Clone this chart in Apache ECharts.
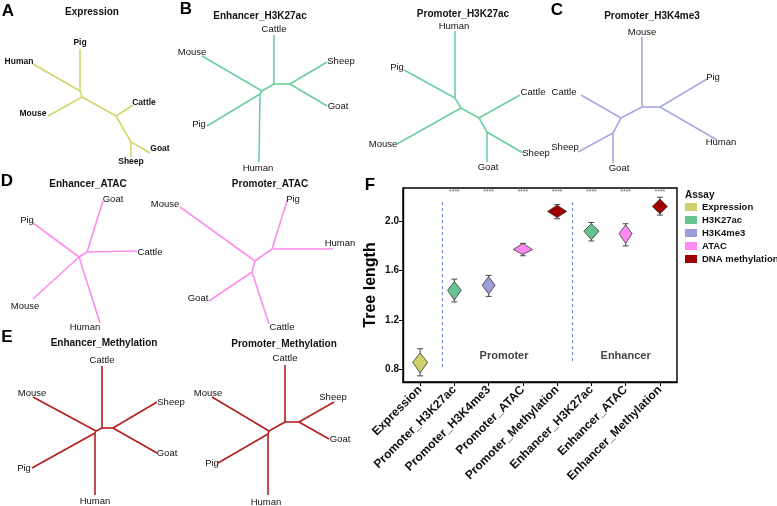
<!DOCTYPE html>
<html>
<head>
<meta charset="utf-8">
<script src="https://cdn.jsdelivr.net/npm/echarts@6/dist/echarts.min.js"></script>
<style>
html,body{margin:0;padding:0;background:#fff;}
#chart{width:777px;height:506px;}
</style>
</head>
<body>
<div id="chart"></div>
<script>
// ---------------- DATA ----------------
// Panel F: tree length violins
var categories = ['Expression','Promoter_H3K27ac','Promoter_H3K4me3','Promoter_ATAC','Promoter_Methylation','Enhancer_H3K27ac','Enhancer_ATAC','Enhancer_Methylation'];
var assayOfCategory = ['Expression','H3K27ac','H3K4me3','ATAC','DNA methylation','H3K27ac','ATAC','DNA methylation'];
var assays = ['Expression','H3K27ac','H3K4me3','ATAC','DNA methylation'];
var violinLow   = [0.77, 1.36, 1.41, 1.73, 2.03, 1.85, 1.82, 2.06];
var violinHigh  = [0.93, 1.51, 1.55, 1.82, 2.13, 1.98, 1.97, 2.18];
var violinPeak  = [0.855,1.44, 1.48, 1.77, 2.08, 1.92, 1.90, 2.12];
var violinWidth = [0.44, 0.40, 0.38, 0.56, 0.56, 0.44, 0.38, 0.44];
var pointLow    = [0.745,1.345,1.39, 1.72, 2.02, 1.84, 1.80, 2.05];
var pointHigh   = [0.965,1.53, 1.56, 1.82, 2.135,1.99, 1.98, 2.195];
var sigLabels   = ['', '****','****','****','****','****','****','****'];
var yTicks = [0.8, 1.2, 1.6, 2.0];
var dividers = [0.65, 4.45];
var groupLabels = [['Promoter', 2.45, 0.905], ['Enhancer', 6.0, 0.905]];

// Trees: nodes [name, x, y] in each tree's own units; edges [from, to]
var treeTitles = ['Expression','Enhancer_H3K27ac','Promoter_H3K27ac','Promoter_H3K4me3','Enhancer_ATAC','Promoter_ATAC','Enhancer_Methylation','Promoter_Methylation'];
var treeAssay = ['Expression','H3K27ac','H3K27ac','H3K4me3','ATAC','ATAC','DNA methylation','DNA methylation'];

var nodesExpression = [['Pig',80,49],['Human',33,64],['Mouse',48,116],['Cattle',133,105],['Goat',150,153],['Sheep',131,157],
  ['a1',80,91],['a2',82,97],['a3',116,116],['a4',131,142]];
var edgesExpression = [['Pig','a1'],['Human','a1'],['a1','a2'],['Mouse','a2'],['a2','a3'],['Cattle','a3'],['a3','a4'],['Goat','a4'],['Sheep','a4']];

var nodesEnhH3K27ac = [['Cattle',94,35],['Sheep',147,62],['Goat',147,106],['Mouse',22,56],['Pig',27,126],['Human',79,162],
  ['b1',94,84],['b2',110,84],['b3',82,91],['b4',80,94]];
var edgesEnhH3K27ac = [['Cattle','b1'],['b1','b2'],['Sheep','b2'],['Goat','b2'],['b1','b3'],['Mouse','b3'],['b3','b4'],['Pig','b4'],['Human','b4']];

var nodesProH3K27ac = [['Human',85,31],['Pig',34,70],['Mouse',27,144],['Cattle',150,95],['Sheep',153,153],['Goat',117,162],
  ['p1',85,98],['p2',91,108],['p3',109,118],['p4',117,132]];
var edgesProH3K27ac = [['Human','p1'],['Pig','p1'],['p1','p2'],['Mouse','p2'],['p2','p3'],['Cattle','p3'],['p3','p4'],['Goat','p4'],['Sheep','p4']];

var nodesProH3K4me3 = [['Mouse',82,37],['Pig',147,79],['Human',157,140],['Cattle',21,95],['Sheep',18,152],['Goat',53,163],
  ['c1',82,107],['c2',100,107],['c3',61,118],['c4',53,133]];
var edgesProH3K4me3 = [['Mouse','c1'],['c1','c2'],['Pig','c2'],['Human','c2'],['c1','c3'],['Cattle','c3'],['c3','c4'],['Sheep','c4'],['Goat','c4']];

var nodesEnhATAC = [['Goat',103,31],['Cattle',137,81],['Pig',33,53],['Mouse',33,129],['Human',100,153],
  ['d1',87,82],['d2',79,87]];
var edgesEnhATAC = [['Goat','d1'],['Cattle','d1'],['d1','d2'],['Pig','d2'],['Mouse','d2'],['Human','d2']];

var nodesProATAC = [['Pig',117,31],['Human',163,79],['Mouse',10,37],['Goat',39,131],['Cattle',99,154],
  ['q1',102,79],['q2',85,91],['q3',82,102]];
var edgesProATAC = [['Pig','q1'],['Human','q1'],['q1','q2'],['Mouse','q2'],['q2','q3'],['Goat','q3'],['Cattle','q3']];

var nodesEnhMeth = [['Cattle',102,26],['Sheep',157,62],['Goat',157,113],['Mouse',33,57],['Pig',32,128],['Human',95,155],
  ['e1',102,88],['e2',113,88],['e3',96,91],['e4',95,93]];
var edgesEnhMeth = [['Cattle','e1'],['e1','e2'],['Sheep','e2'],['Goat','e2'],['e1','e3'],['Mouse','e3'],['e3','e4'],['Pig','e4'],['Human','e4']];

var nodesProMeth = [['Cattle',105,25],['Sheep',154,62],['Goat',149,99],['Mouse',32,57],['Pig',38,123],['Human',88,155],
  ['m1',105,82],['m2',119,82],['m3',89,91],['m4',88,94]];
var edgesProMeth = [['Cattle','m1'],['m1','m2'],['Sheep','m2'],['Goat','m2'],['m1','m3'],['Mouse','m3'],['m3','m4'],['Pig','m4'],['Human','m4']];

var treeNodes = [nodesExpression,nodesEnhH3K27ac,nodesProH3K27ac,nodesProH3K4me3,nodesEnhATAC,nodesProATAC,nodesEnhMeth,nodesProMeth];
var treeEdges = [edgesExpression,edgesEnhH3K27ac,edgesProH3K27ac,edgesProH3K4me3,edgesEnhATAC,edgesProATAC,edgesEnhMeth,edgesProMeth];

// ---------------- STYLE / LAYOUT ----------------
var FONT = '"Liberation Sans", Arial, sans-serif';
var fillColor = {'Expression':'#cfcf6c','H3K27ac':'#66c28f','H3K4me3':'#9c9cd6','ATAC':'#ff88f2','DNA methylation':'#9e0000'};
var treeColor = {'Expression':'#d4d46c','H3K27ac':'#6ccf9f','H3K4me3':'#a8a8e2','ATAC':'#ff8cf0','DNA methylation':'#b41e1e'};
var treeBoxes = [[0,0],[180,0],[370,0],[560,0],[0,170],[170,170],[0,340],[180,340]];
var BOXW = 190, BOXH = 166;
var treeTitlePos = [[92,12],[260,16],[463,14],[652,16],[88,184],[270,184],[104,343],[284,344]];
var panelLetters = [['A',8,11],['B',186,9],['C',557,10],['D',7,181],['E',7,337],['F',370,185]];
// label offset (dx,dy) of each leaf label centre from its tip, per tree
var labelOffsets = [
  {Pig:[0,-6],Human:[-14,-2],Mouse:[-15,-2],Cattle:[11,-2],Goat:[10,-4],Sheep:[0,5]},
  {Cattle:[0,-6],Sheep:[14,-1],Goat:[11,0],Mouse:[-10,-4],Pig:[-8,-2],Human:[-1,6]},
  {Human:[-1,-5],Pig:[-7,-3],Mouse:[-14,0],Cattle:[13,-3],Sheep:[13,0],Goat:[1,5]},
  {Mouse:[0,-5],Pig:[6,-2],Human:[4,2],Cattle:[-17,-3],Sheep:[-13,-5],Goat:[6,5]},
  {Goat:[10,-2],Cattle:[13,1],Pig:[-6,-3],Mouse:[-8,7],Human:[-15,4]},
  {Pig:[6,-2],Human:[7,-6],Mouse:[-15,-3],Goat:[-11,-3],Cattle:[13,3]},
  {Cattle:[0,-6],Sheep:[14,0],Goat:[10,0],Mouse:[-1,-4],Pig:[-8,0],Human:[0,6]},
  {Cattle:[0,-7],Sheep:[-1,-5],Goat:[11,0],Mouse:[-4,-4],Pig:[-6,0],Human:[-2,7]}
];

var grids = [], xAxes = [], yAxes = [], series = [], graphics = [];

treeNodes.forEach(function (nodes, t) {
  grids.push({left: treeBoxes[t][0], top: treeBoxes[t][1], width: BOXW, height: BOXH, show: false});
  xAxes.push({type: 'value', gridIndex: t, min: 0, max: BOXW, show: false});
  yAxes.push({type: 'value', gridIndex: t, min: 0, max: BOXH, inverse: true, show: false});
  var offs = labelOffsets[t];
  series.push({
    type: 'graph', coordinateSystem: 'cartesian2d', xAxisIndex: t, yAxisIndex: t,
    layout: 'none', symbolSize: 0, silent: true, animation: false,
    lineStyle: {color: treeColor[treeAssay[t]], width: 1.6, opacity: 1, curveness: 0},
    emphasis: {disabled: true},
    data: nodes.map(function (n) {
      var off = offs[n[0]];
      return {
        name: n[0], value: [n[1], n[2]],
        label: off ? {show: true, position: 'inside', offset: off, formatter: n[0],
          color: '#111', fontFamily: FONT,
          fontSize: t === 0 ? 8.5 : 9.5, fontWeight: t === 0 ? 'bold' : 'normal'} : {show: false}
      };
    }),
    links: treeEdges[t].map(function (e) { return {source: e[0], target: e[1]}; })
  });
  graphics.push({type: 'text', x: treeTitlePos[t][0], y: treeTitlePos[t][1],
    style: {text: treeTitles[t], fontSize: 10, fontWeight: 'bold', fontFamily: FONT, fill: '#111',
      align: 'center', verticalAlign: 'middle'}});
});

panelLetters.forEach(function (p) {
  graphics.push({type: 'text', x: p[1], y: p[2],
    style: {text: p[0], fontSize: 17, fontWeight: 'bold', fontFamily: FONT, fill: '#000',
      align: 'center', verticalAlign: 'middle'}});
});

// Panel F
var G = 8;
grids.push({left: 403, top: 188, width: 274, height: 194, show: true, borderColor: '#000', borderWidth: 1.4, backgroundColor: 'transparent'});
xAxes.push({
  type: 'category', gridIndex: G, data: categories,
  axisLine: {onZero: false, lineStyle: {color: '#000', width: 1.4}},
  axisTick: {show: true, alignWithLabel: true, length: 4, lineStyle: {color: '#000', width: 1}},
  axisLabel: {rotate: 45, interval: 0, fontSize: 12, fontWeight: 'bold', fontFamily: FONT, color: '#111', margin: 6},
  splitLine: {show: false}
});
xAxes.push({type: 'value', gridIndex: G, min: -0.5, max: 7.5, show: false});
yAxes.push({
  type: 'value', gridIndex: G, min: 0.695, max: 2.27,
  name: 'Tree length', nameLocation: 'middle', nameGap: 24, nameRotate: 90,
  nameTextStyle: {fontSize: 16, fontWeight: 'bold', fontFamily: FONT, color: '#000'},
  axisLine: {show: true, onZero: false, lineStyle: {color: '#000', width: 1.4}},
  axisTick: {show: true, length: 4, customValues: yTicks, lineStyle: {color: '#000', width: 1}},
  axisLabel: {customValues: yTicks, formatter: function (v) { return v.toFixed(1); },
    fontSize: 10, fontWeight: 'bold', fontFamily: FONT, color: '#111', margin: 4},
  splitLine: {show: false}
});

function renderViolin(params, api) {
  var idx = api.value(0);
  var pTop = api.coord([idx, api.value(2)]);
  var pBot = api.coord([idx, api.value(1)]);
  var pMid = api.coord([idx, api.value(3)]);
  var half = api.size([1, 0])[0] * api.value(4) / 2;
  var wLo = api.coord([idx, api.value(5)]);
  var wHi = api.coord([idx, api.value(6)]);
  var c = api.visual('color');
  var stroke = {stroke: '#333', lineWidth: 0.9};
  return {
    type: 'group',
    children: [
      {type: 'line', shape: {x1: wLo[0], y1: wLo[1], x2: wHi[0], y2: wHi[1]}, style: stroke},
      {type: 'polygon', shape: {points: [pTop, [pMid[0] + half, pMid[1]], pBot, [pMid[0] - half, pMid[1]]]},
        style: {fill: c, stroke: '#333', lineWidth: 0.8}},
      {type: 'line', shape: {x1: wLo[0] - 3, y1: wLo[1], x2: wLo[0] + 3, y2: wLo[1]}, style: stroke},
      {type: 'line', shape: {x1: wHi[0] - 3, y1: wHi[1], x2: wHi[0] + 3, y2: wHi[1]}, style: stroke}
    ]
  };
}

assays.forEach(function (a) {
  var data = [];
  categories.forEach(function (c, i) {
    if (assayOfCategory[i] === a) {
      data.push([i, violinLow[i], violinHigh[i], violinPeak[i], violinWidth[i], pointLow[i], pointHigh[i]]);
    }
  });
  series.push({
    type: 'custom', name: a, xAxisIndex: G, yAxisIndex: G, renderItem: renderViolin,
    itemStyle: {color: fillColor[a]}, encode: {x: 0, y: 1}, data: data, silent: true, animation: false
  });
});

series.push({
  type: 'scatter', xAxisIndex: G, yAxisIndex: G, symbolSize: 0, silent: true, animation: false,
  data: categories.map(function (c, i) { return [i, 2.238]; }),
  label: {show: true, position: 'inside', formatter: function (p) { return sigLabels[p.dataIndex]; },
    fontSize: 7, color: '#444', fontFamily: FONT}
});

dividers.forEach(function (d, k) {
  series.push({
    type: 'line', xAxisIndex: G + 1, yAxisIndex: G, symbol: 'none', silent: true, animation: false,
    data: [[d, 2.155], [d, k === 0 ? 0.80 : 0.85]],
    lineStyle: {color: '#5b7fd6', width: 1, type: [3, 3]}
  });
});

series.push({
  type: 'scatter', xAxisIndex: G + 1, yAxisIndex: G, symbolSize: 0, silent: true, animation: false,
  data: groupLabels.map(function (g) { return {value: [g[1], g[2]], name: g[0]}; }),
  label: {show: true, position: 'inside', formatter: '{b}', fontSize: 11, fontWeight: 'bold', fontFamily: FONT, color: '#111'}
});

graphics.push({type: 'text', x: 685, y: 195,
  style: {text: 'Assay', fontSize: 10, fontWeight: 'bold', fontFamily: FONT, fill: '#111', align: 'left', verticalAlign: 'middle'}});

var chart = echarts.init(document.getElementById('chart'));
chart.setOption({
  animation: false,
  backgroundColor: '#fff',
  grid: grids, xAxis: xAxes, yAxis: yAxes,
  legend: {
    data: assays, orient: 'vertical', left: 685, top: 202, padding: 0, itemWidth: 12, itemHeight: 8, itemGap: 3,
    icon: 'rect', selectedMode: false,
    textStyle: {fontSize: 9.5, fontWeight: 'bold', fontFamily: FONT, color: '#111'}
  },
  graphic: graphics,
  series: series
});
</script>
</body>
</html>
